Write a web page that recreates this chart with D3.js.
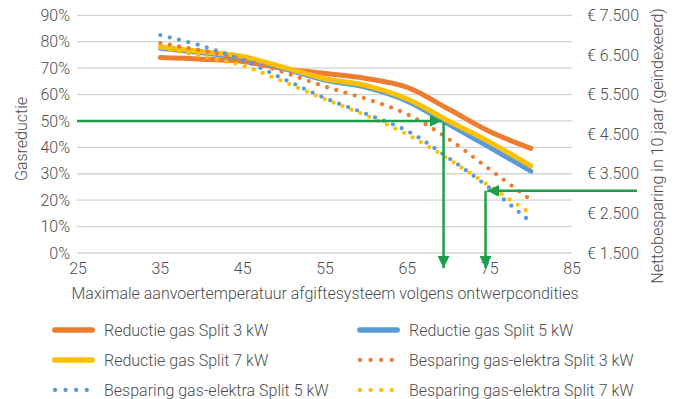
<!DOCTYPE html>
<html>
<head>
<meta charset="utf-8">
<script src="https://cdn.jsdelivr.net/npm/d3@7"></script>
<style>
  body { margin: 0; background: #fff; }
  svg { display: block; }
  text { font-family: "Roboto", sans-serif; font-weight: 300; fill: #4d4d4d; }
</style>
</head>
<body>
<svg id="chart" width="678" height="399"></svg>
<script>
// temperaturen (graden C)
const temps = [35, 40, 45, 50, 55, 60, 65, 70, 75, 80];

// gasreductie in % (linker as)
const reductie3 = [74, 73.4, 72.5, 69.8, 68, 66.1, 62.7, 54.5, 46, 39.6];
const reductie5 = [77.5, 75.8, 73.8, 69.8, 65.5, 62.7, 57.5, 48.8, 40, 31];
const reductie7 = [78, 76.3, 74.4, 70.3, 66, 63.4, 58.3, 50, 42, 33];

// nettobesparing in euro (rechter as)
const besparing3 = [6800, 6610, 6390, 6060, 5700, 5390, 5000, 4380, 3610, 2840];
const besparing5 = [7000, 6730, 6370, 5890, 5410, 5010, 4580, 3900, 3140, 2280];
const besparing7 = [6680, 6470, 6230, 5820, 5380, 4970, 4490, 3870, 3190, 2490];

// as-ticks
const xTicks = [25, 35, 45, 55, 65, 75, 85];
const pctTicks = [0, 10, 20, 30, 40, 50, 60, 70, 80, 90];
const euroTicks = [1500, 2500, 3500, 4500, 5500, 6500, 7500];

// annotatie-pijlen (in data-eenheden)
const arrowPct = { pct: 50, tempStart: 25, tempEnd: 69.4, pctEnd: -5.7 };
const arrowEuro = { euro: 3070, tempStart: 92.9, tempEnd: 74.7, tempDown: 74.5, pctEnd: -5.7 };

const orange = '#ED7D31', blue = '#5B9BD5', yellow = '#FFC000', green = '#1F9E4A';

const series = [
  { name: 'Reductie gas Split 3 kW', values: reductie3, color: orange, axis: 'pct', dotted: false },
  { name: 'Reductie gas Split 5 kW', values: reductie5, color: blue, axis: 'pct', dotted: false },
  { name: 'Reductie gas Split 7 kW', values: reductie7, color: yellow, axis: 'pct', dotted: false },
  { name: 'Besparing gas-elektra Split 3 kW', values: besparing3, color: orange, axis: 'euro', dotted: true },
  { name: 'Besparing gas-elektra Split 5 kW', values: besparing5, color: blue, axis: 'euro', dotted: true },
  { name: 'Besparing gas-elektra Split 7 kW', values: besparing7, color: yellow, axis: 'euro', dotted: true }
];

const svg = d3.select('#chart');
const plotLeft = 77, plotRight = 572, plotTop = 15.3, plotBottom = 253;

const xScale = d3.scaleLinear().domain([25, 85]).range([plotLeft + 1, plotRight]);
const yPct = d3.scaleLinear().domain([0, 90]).range([plotBottom, plotTop]);
const yEuro = d3.scaleLinear().domain([1500, 7500]).range([plotBottom, plotTop]);

const nl = d3.formatLocale({ decimal: ',', thousands: '.', grouping: [3], currency: ['€ ', ''] });
const euroFormat = nl.format('$,');

// rasterlijnen
svg.append('g')
  .selectAll('line')
  .data(pctTicks)
  .join('line')
  .attr('x1', plotLeft).attr('x2', plotRight)
  .attr('y1', d => yPct(d)).attr('y2', d => yPct(d))
  .attr('stroke', '#d4d4d4')
  .attr('stroke-width', 1.3);

// linker as
svg.append('g')
  .selectAll('text')
  .data(pctTicks)
  .join('text')
  .attr('x', 70)
  .attr('y', d => yPct(d))
  .attr('dy', '0.35em')
  .attr('text-anchor', 'end')
  .style('font-size', '16px')
  .text(d => d + '%');

// rechter as
svg.append('g')
  .selectAll('text')
  .data(euroTicks)
  .join('text')
  .attr('x', 587)
  .attr('y', d => yEuro(d))
  .attr('dy', '0.35em')
  .style('font-size', '16px')
  .text(d => euroFormat(d));

// x-as
svg.append('g')
  .selectAll('text')
  .data(xTicks)
  .join('text')
  .attr('x', d => xScale(d))
  .attr('y', 274)
  .attr('text-anchor', 'middle')
  .style('font-size', '16px')
  .text(d => d);

// as-titels
svg.append('text')
  .attr('x', 325).attr('y', 299)
  .attr('text-anchor', 'middle')
  .style('font-size', '16px')
  .text('Maximale aanvoertemperatuur afgiftesysteem volgens ontwerpcondities');

svg.append('text')
  .attr('transform', 'translate(21,139) rotate(-90)')
  .attr('dy', '0.35em')
  .attr('text-anchor', 'middle')
  .style('font-size', '16px')
  .text('Gasreductie');

svg.append('text')
  .attr('transform', 'translate(657,146) rotate(-90)')
  .attr('dy', '0.35em')
  .attr('text-anchor', 'middle')
  .style('font-size', '16px')
  .text('Nettobesparing in 10 jaar (geïndexeerd)');

// lijnen
const lineFor = s => d3.line()
  .x((d, i) => xScale(temps[i]))
  .y(d => (s.axis === 'pct' ? yPct(d) : yEuro(d)))
  .curve(d3.curveCatmullRom.alpha(0.5));

svg.append('g')
  .selectAll('path')
  .data(series)
  .join('path')
  .attr('d', s => lineFor(s)(s.values))
  .attr('fill', 'none')
  .attr('stroke', s => s.color)
  .attr('stroke-width', s => (s.dotted ? 4.3 : 5))
  .attr('stroke-linecap', 'round')
  .attr('stroke-dasharray', s => (s.dotted ? '0 9.6' : null));

// pijlpunten
const defs = svg.append('defs');
defs.append('marker')
  .attr('id', 'arrow')
  .attr('viewBox', '0 0 12 12')
  .attr('refX', 12).attr('refY', 6)
  .attr('markerWidth', 12).attr('markerHeight', 12)
  .attr('markerUnits', 'userSpaceOnUse')
  .attr('orient', 'auto')
  .append('path')
  .attr('d', 'M0,0 L12,6 L0,12 Z')
  .attr('fill', green);

const arrows = svg.append('g')
  .attr('stroke', green)
  .attr('stroke-width', 2.5)
  .attr('fill', 'none');

const addArrow = (x1, y1, x2, y2) => arrows.append('line')
  .attr('x1', x1).attr('y1', y1)
  .attr('x2', x2).attr('y2', y2)
  .attr('marker-end', 'url(#arrow)');

addArrow(xScale(arrowPct.tempStart) - 1, yPct(arrowPct.pct), xScale(arrowPct.tempEnd) - 2, yPct(arrowPct.pct));
addArrow(xScale(arrowPct.tempEnd), yPct(arrowPct.pct) + 2, xScale(arrowPct.tempEnd), yPct(arrowPct.pctEnd));
addArrow(xScale(arrowEuro.tempStart), yEuro(arrowEuro.euro), xScale(arrowEuro.tempEnd), yEuro(arrowEuro.euro));
addArrow(xScale(arrowEuro.tempDown), yEuro(arrowEuro.euro), xScale(arrowEuro.tempDown), yPct(arrowEuro.pctEnd));

// legenda (2 kolommen, 3 rijen)
const legend = svg.append('g')
  .selectAll('g')
  .data(series)
  .join('g')
  .attr('transform', (d, i) => `translate(${i % 2 === 0 ? 52 : 357},${[330, 360, 390][Math.floor(i / 2)]})`);

legend.append('line')
  .attr('x1', d => (d.dotted ? 3 : 2.7))
  .attr('x2', d => (d.dotted ? 35 : 40.3))
  .attr('y1', 0).attr('y2', 0)
  .attr('stroke', d => d.color)
  .attr('stroke-width', d => (d.dotted ? 4.3 : 5.3))
  .attr('stroke-linecap', 'round')
  .attr('stroke-dasharray', d => (d.dotted ? '0 10.6' : null));

legend.append('text')
  .attr('x', 52)
  .attr('y', 0)
  .attr('dy', '0.35em')
  .style('font-size', '16px')
  .text(d => d.name);
</script>
</body>
</html>
